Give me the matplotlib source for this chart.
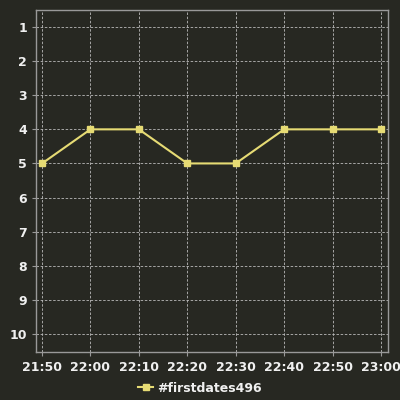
import matplotlib
matplotlib.use("Agg")
import matplotlib.pyplot as plt
from matplotlib.lines import Line2D

times = ["21:50", "22:00", "22:10", "22:20", "22:30", "22:40", "22:50", "23:00"]
minutes = [0, 10, 20, 30, 40, 50, 60, 70]
ranks = [5, 4, 4, 5, 5, 4, 4, 4]
yticks = [1, 2, 3, 4, 5, 6, 7, 8, 9, 10]
series_name = "#firstdates496"

bg = "#272822"
fg = "#f0f0f0"
line_color = "#e6db74"

plt.rcParams["font.weight"] = "bold"
fig = plt.figure(figsize=(4, 4), dpi=100, facecolor=bg)
ax = fig.add_axes([0.09, 0.12, 0.88, 0.855], facecolor=bg)
ax.plot(minutes, ranks, color=line_color, lw=1.5, marker="s", ms=5, zorder=3)
ax.set_xlim(-1.25, 71.45)
ax.set_ylim(10.53, 0.5)
ax.set_xticks(minutes)
ax.set_xticklabels(times)
ax.set_yticks(yticks)
ax.grid(True, color="#bbbbbb", ls=(0, (3, 2)), lw=0.6)
for s in ax.spines.values():
    s.set_color("#999999")
    s.set_linewidth(1)
ax.tick_params(axis="both", colors="#999999", labelcolor=fg, labelsize=9, length=3)

h = Line2D([], [], color=line_color, lw=1.5, marker="s", ms=5)
fig.legend([h], [series_name], loc="center", bbox_to_anchor=(0.5, 0.03),
           frameon=False, labelcolor=fg, prop={"size": 9, "weight": "bold"},
           handlelength=1.2, handletextpad=0.3)
fig.savefig("out.png", dpi=100, facecolor=bg)
